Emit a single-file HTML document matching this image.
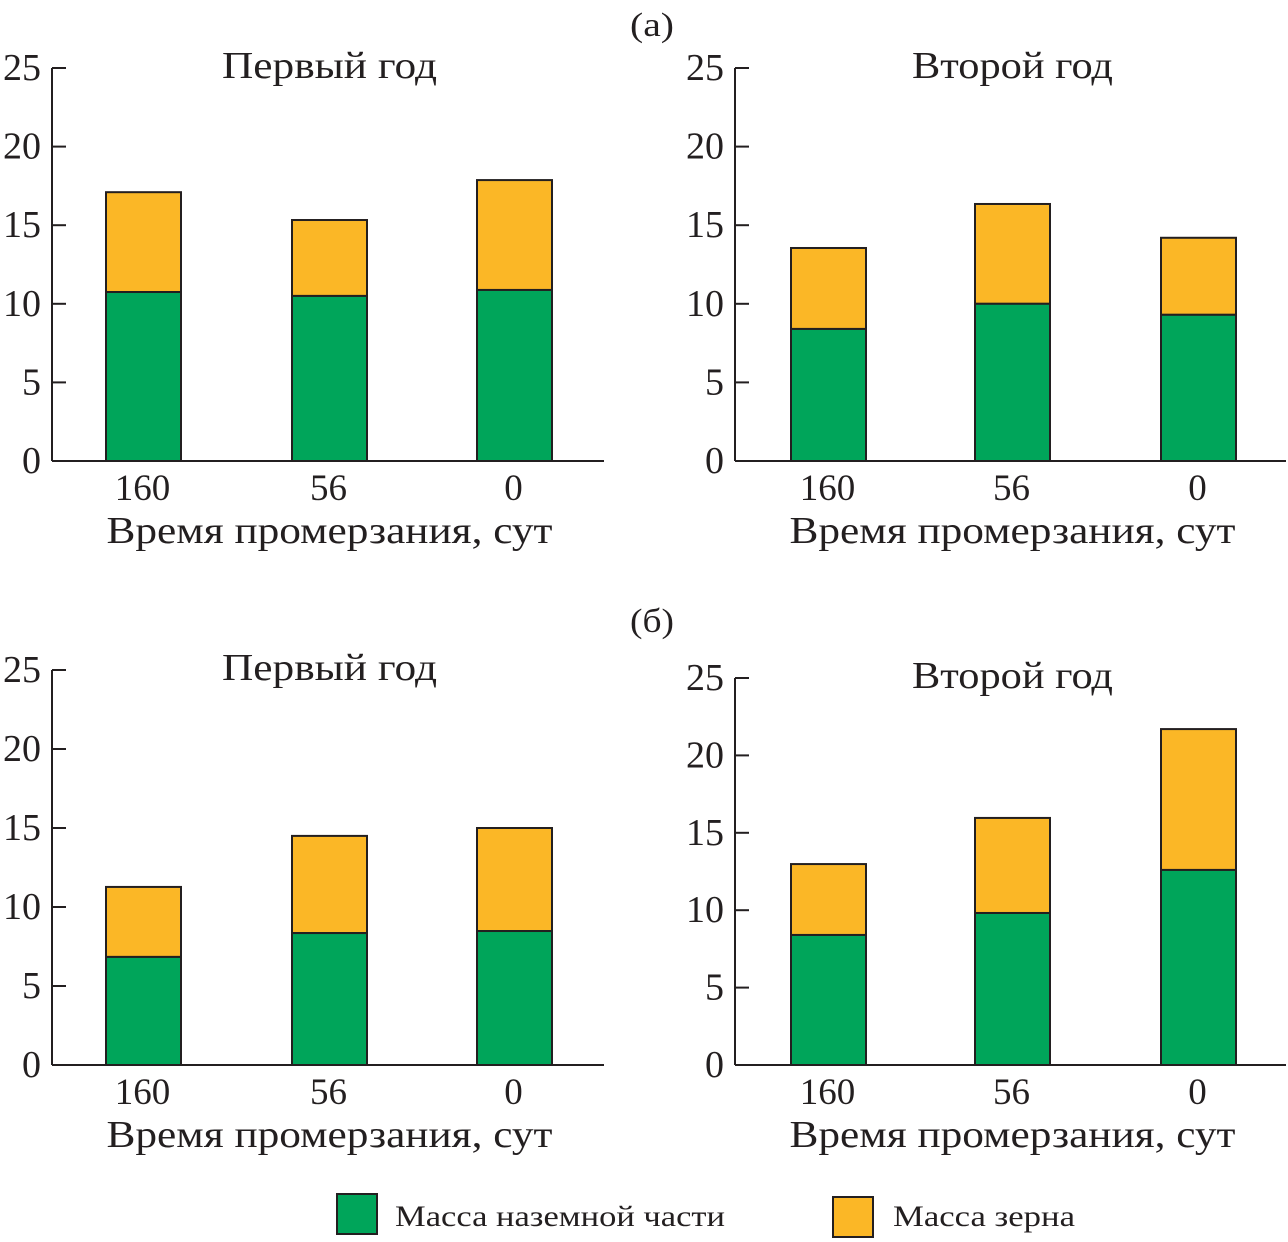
<!DOCTYPE html>
<html><head><meta charset="utf-8"><style>
body{margin:0;background:#fff;}
svg{display:block;font-family:"Liberation Serif","DejaVu Serif",serif;}
</style></head><body>
<svg id="chart" width="1288" height="1242" viewBox="0 0 1288 1242">
<text x="652" y="36" font-size="34" text-anchor="middle" fill="#231f20" textLength="44" lengthAdjust="spacingAndGlyphs">(а)</text>
<text x="652" y="632" font-size="34" text-anchor="middle" fill="#231f20" textLength="44" lengthAdjust="spacingAndGlyphs">(б)</text>
<g>
<rect x="337" y="1194" width="40" height="40" fill="#00a55a" stroke="#231f20" stroke-width="2"/>
<text x="395" y="1226" font-size="30" fill="#231f20" textLength="330" lengthAdjust="spacingAndGlyphs">Масса наземной части</text>
<rect x="833" y="1197" width="40" height="40" fill="#fbb726" stroke="#231f20" stroke-width="2"/>
<text x="893" y="1226" font-size="30" fill="#231f20" textLength="182" lengthAdjust="spacingAndGlyphs">Масса зерна</text>
</g>
</svg>
<script>
const categories = ["160","56","0"];
const yTicks = [0,5,10,15,20,25];
const aFirstGreen = [10.75,10.5,10.88];
const aFirstTotal = [17.1,15.33,17.87];
const aSecondGreen = [8.4,10.0,9.3];
const aSecondTotal = [13.55,16.35,14.2];
const bFirstGreen = [6.84,8.35,8.48];
const bFirstTotal = [11.27,14.5,15.0];
const bSecondGreen = [8.4,9.82,12.6];
const bSecondTotal = [12.98,15.96,21.7];

const svg = document.getElementById('chart');
const NS = 'http://www.w3.org/2000/svg';
function mk(tag, attrs){const e=document.createElementNS(NS,tag);for(const k in attrs)e.setAttribute(k,attrs[k]);return e;}

function panel(name, ax, y0, y25, xEnd, barX, title, titleW, green, total){
  const g = mk('g',{});
  
  
  svg.appendChild(g);
  const ys = v => y0 - (y0 - y25) * v / 25;
  const bw = 75;
  categories.forEach((c,i)=>{
    const x = barX[i];
    const r1 = mk('rect',{x:x,y:ys(total[i]),width:bw,height:ys(green[i])-ys(total[i]),fill:'#fbb726',stroke:'#231f20','stroke-width':2});
    
    
    g.appendChild(r1);
    const r2 = mk('rect',{x:x,y:ys(green[i]),width:bw,height:y0-ys(green[i]),fill:'#00a55a',stroke:'#231f20','stroke-width':2});
    
    
    g.appendChild(r2);
    const t = mk('text',{x:x+bw/2-1,y:y0+39,'font-size':37,'text-anchor':'middle',fill:'#231f20'});
    t.textContent = c;
    
    
    g.appendChild(t);
  });
  const axisY = mk('line',{x1:ax,y1:ys(25),x2:ax,y2:y0,stroke:'#231f20','stroke-width':2});
  
  
  g.appendChild(axisY);
  const axisX = mk('line',{x1:ax,y1:y0,x2:xEnd,y2:y0,stroke:'#231f20','stroke-width':2});
  
  
  g.appendChild(axisX);
  yTicks.forEach(v=>{
    const y = ys(v);
    if(v>0){
      const tk = mk('line',{x1:ax,y1:y,x2:ax+14,y2:y,stroke:'#231f20','stroke-width':2});
      
      
      g.appendChild(tk);
    }
    const t = mk('text',{x:ax-11,y:y+12,'font-size':38,'text-anchor':'end',fill:'#231f20'});
    t.textContent = v;
    
    
    g.appendChild(t);
  });
  const tt = mk('text',{x:barX[1]+bw/2,y:ys(25)+10,'font-size':38,'text-anchor':'middle',fill:'#231f20',textLength:titleW,lengthAdjust:'spacingAndGlyphs'});
  tt.textContent = title;
  
  
  g.appendChild(tt);
  const xt = mk('text',{x:barX[1]+bw/2,y:y0+82,'font-size':38,'text-anchor':'middle',fill:'#231f20',textLength:446,lengthAdjust:'spacingAndGlyphs'});
  xt.textContent = 'Время промерзания, сут';
  
  
  g.appendChild(xt);
}
panel('panel-a-first-year',52,461,68,604,[106,292,477],'Первый год',215,aFirstGreen,aFirstTotal);
panel('panel-a-second-year',735,461,68,1286,[791,975,1161],'Второй год',201,aSecondGreen,aSecondTotal);
panel('panel-b-first-year',52,1065,670,604,[106,292,477],'Первый год',215,bFirstGreen,bFirstTotal);
panel('panel-b-second-year',735,1065,678,1286,[791,975,1161],'Второй год',201,bSecondGreen,bSecondTotal);
</script>
</body></html>
